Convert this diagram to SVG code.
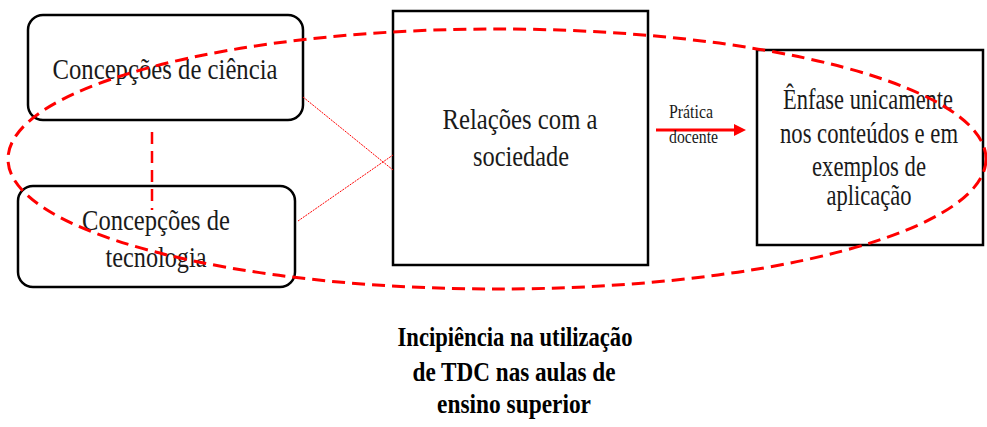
<svg xmlns="http://www.w3.org/2000/svg" width="987" height="427" viewBox="0 0 987 427">
<defs>
<style>
.box{fill:#fff;stroke:#000;stroke-width:2.5}
.t{font-family:"Liberation Serif","Times New Roman",serif;font-size:29px;fill:#1a1a1a;text-anchor:middle}
.s{font-family:"Liberation Serif","Times New Roman",serif;font-size:19px;fill:#1a1a1a}
.b{font-family:"Liberation Serif","Times New Roman",serif;font-size:28px;font-weight:bold;fill:#000;text-anchor:middle}
.dash{fill:none;stroke:#ff0000;stroke-width:3;stroke-dasharray:13 7}
.thin{fill:none;stroke:#ff0000;stroke-width:1;stroke-dasharray:2 1}
</style>
<marker id="ah" markerWidth="12" markerHeight="12" refX="3" refY="6" orient="auto" markerUnits="userSpaceOnUse" viewBox="0 0 12 12">
<path d="M0,0 L12,6 L0,12 z" fill="#ff0000"/>
</marker>
</defs>
<rect width="987" height="427" fill="#fff"/>
<g id="n1">
<rect class="box" x="28" y="15" width="275" height="105" rx="15"/>
<text class="t" x="165" y="79" textLength="225" lengthAdjust="spacingAndGlyphs">Concepções de ciência</text>
</g>
<g id="n2">
<rect class="box" x="18" y="186" width="277" height="101" rx="15"/>
<text class="t" x="156" y="230" textLength="148" lengthAdjust="spacingAndGlyphs">Concepções de</text>
<text class="t" x="156" y="267" textLength="101" lengthAdjust="spacingAndGlyphs">tecnologia</text>
</g>
<g id="n3">
<rect class="box" x="393" y="11" width="255" height="254"/>
<text class="t" x="520" y="129" textLength="155" lengthAdjust="spacingAndGlyphs">Relações com a</text>
<text class="t" x="521" y="166" textLength="96" lengthAdjust="spacingAndGlyphs">sociedade</text>
</g>
<g id="n4">
<rect class="box" x="757" y="50" width="226" height="195"/>
<text class="t" x="868" y="109" textLength="170" lengthAdjust="spacingAndGlyphs">Ênfase unicamente</text>
<text class="t" x="869" y="143" textLength="178" lengthAdjust="spacingAndGlyphs">nos conteúdos e em</text>
<text class="t" x="869" y="176" textLength="114" lengthAdjust="spacingAndGlyphs">exemplos de</text>
<text class="t" x="869" y="205" textLength="85" lengthAdjust="spacingAndGlyphs">aplicação</text>
</g>
<g id="connectors">
<line class="thin" x1="303" y1="97" x2="393" y2="170"/>
<line class="thin" x1="298" y1="221" x2="393" y2="155"/>
<line x1="152" y1="132" x2="152" y2="210" stroke="#ff0000" stroke-width="2.5" stroke-dasharray="12 7"/>
<line x1="656" y1="130" x2="737" y2="130" stroke="#ff0000" stroke-width="3" marker-end="url(#ah)"/>
<text class="s" x="669" y="118" textLength="44" lengthAdjust="spacingAndGlyphs">Prática</text>
<text class="s" x="669" y="143" textLength="49" lengthAdjust="spacingAndGlyphs">docente</text>
<ellipse class="dash" cx="497" cy="159" rx="489" ry="130"/>
</g>
<g id="caption">
<text class="b" x="515" y="346" textLength="235" lengthAdjust="spacingAndGlyphs">Incipiência na utilização</text>
<text class="b" x="514" y="381" textLength="203" lengthAdjust="spacingAndGlyphs">de TDC nas aulas de</text>
<text class="b" x="514" y="413" textLength="154" lengthAdjust="spacingAndGlyphs">ensino superior</text>
</g>
</svg>
